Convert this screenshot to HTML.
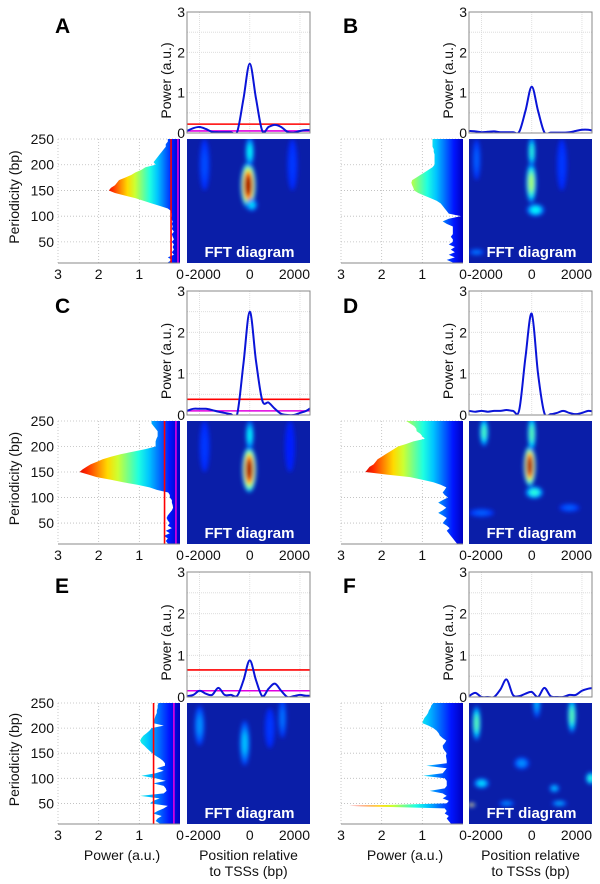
<!DOCTYPE html>
<html><head><meta charset="utf-8"><style>
html,body{margin:0;padding:0;background:#fff;}
svg{display:block;font-family:"Liberation Sans",Arial,sans-serif;}
</style></head><body>
<svg id="fig" width="600" height="884" viewBox="0 0 600 884" xmlns="http://www.w3.org/2000/svg">
<defs>
<filter id="blur" x="-50%" y="-50%" width="200%" height="200%"><feGaussianBlur stdDeviation="2.2"/></filter>
</defs>
</svg>
<script>
// ---- data ----
const positions=[-2500,-2250,-2000,-1750,-1500,-1250,-1000,-750,-500,-250,0,250,500,750,1000,1250,1500,1750,2000,2250,2500];
const periods=[250,245,240,235,230,225,220,215,210,205,200,195,190,185,180,175,170,165,160,155,150,145,140,135,130,125,120,115,110,105,100,95,90,85,80,75,70,65,60,55,50,45,40,35,30,25,20,15,10];
const panelLabels=["A","B","C","D","E","F"];
const topA=[0.05,0.12,0.15,0.1,0.03,0.02,0.02,0.02,0.03,0.85,1.72,0.85,0.05,0.15,0.2,0.15,0.03,0.01,0.05,0.07,0.07];
const topB=[0.05,0.04,0.02,0.03,0.04,0.02,0.02,0.02,0.03,0.55,1.15,0.55,0.02,0.01,0.01,0.01,0.02,0.05,0.08,0.08,0.05];
const topC=[0.1,0.15,0.15,0.15,0.12,0.08,0.05,0.02,0.02,1.25,2.5,1.3,0.35,0.3,0.15,0.03,0.0,0.0,0.05,0.1,0.2];
const topD=[0.1,0.08,0.1,0.08,0.1,0.1,0.12,0.1,0.12,1.4,2.45,1.0,0.05,0.02,0.05,0.1,0.05,0.02,0.05,0.1,0.08];
const topE=[0.02,0.05,0.15,0.08,0.05,0.22,0.05,0.05,0.03,0.4,0.88,0.4,0.02,0.2,0.32,0.15,0.0,0.02,0.05,0.03,0.03];
const topF=[0.02,0.1,0.0,0.0,0.0,0.18,0.42,0.05,0.02,0.08,0.12,0.0,0.22,0.02,0.0,0.0,0.05,0.05,0.15,0.2,0.22];
const specA=[0.3,0.3,0.35,0.35,0.4,0.45,0.5,0.55,0.6,0.65,0.6,0.85,0.95,1.1,1.2,1.35,1.5,1.55,1.6,1.7,1.75,1.6,1.35,1.1,0.9,0.7,0.5,0.3,0.22,0.2,0.2,0.22,0.18,0.2,0.18,0.2,0.15,0.2,0.18,0.15,0.2,0.15,0.18,0.15,0.2,0.15,0.3,0.2,0.3];
const specB=[0.75,0.75,0.75,0.75,0.72,0.72,0.7,0.7,0.7,0.7,0.7,0.75,0.85,0.95,1.05,1.15,1.25,1.27,1.25,1.22,1.2,1.1,0.95,0.8,0.65,0.55,0.5,0.45,0.4,0.35,0.05,0.35,0.5,0.4,0.25,0.25,0.25,0.25,0.3,0.25,0.25,0.35,0.2,0.3,0.2,0.35,0.2,0.4,0.25];
const specC=[0.7,0.7,0.65,0.6,0.55,0.55,0.55,0.58,0.6,0.6,0.6,0.85,1.15,1.45,1.7,1.9,2.05,2.2,2.3,2.4,2.47,2.25,2.05,1.7,1.4,1.05,0.75,0.57,0.29,0.25,0.25,0.2,0.2,0.18,0.17,0.2,0.25,0.3,0.33,0.3,0.25,0.3,0.2,0.35,0.25,0.4,0.3,0.35,0.3];
const specD=[1.4,1.3,1.2,1.15,1.14,1.05,1.0,0.94,1.22,1.4,1.6,1.7,1.8,1.9,2.0,2.1,2.15,2.2,2.3,2.35,2.4,1.87,1.3,1.0,0.73,0.55,0.41,0.45,0.5,0.45,0.37,0.5,0.61,0.5,0.41,0.5,0.61,0.5,0.4,0.45,0.5,0.4,0.33,0.4,0.35,0.3,0.25,0.2,0.15];
const specE=[0.53,0.55,0.55,0.57,0.57,0.6,0.62,0.64,0.66,0.4,0.7,0.75,0.82,0.9,0.95,0.98,0.95,0.88,0.82,0.75,0.68,0.6,0.5,0.42,0.37,0.37,0.57,0.4,0.6,0.95,0.6,0.35,0.66,0.4,0.35,0.33,0.4,0.98,0.5,0.66,0.74,0.3,0.4,0.55,0.66,0.45,0.55,0.6,0.5];
const specF=[0.73,0.78,0.8,0.84,0.86,0.9,0.95,0.98,1.0,0.85,0.73,0.65,0.6,0.57,0.5,0.41,0.45,0.5,0.49,0.45,0.4,0.42,0.41,0.4,0.4,0.9,0.4,0.45,0.5,0.98,0.45,0.4,0.4,0.4,0.45,0.82,0.5,0.4,0.5,0.35,0.4,2.8,0.45,0.4,0.45,0.35,0.4,0.35,0.3];
const thrRed=[0.22,null,0.38,null,0.65,null];
const thrMag=[0.05,null,0.1,null,0.15,null];
// colour scale maximum (power) per panel
const cmapMax=[1.85,2.2,2.55,2.45,2.6,2.9];
// heatmap blobs: [position bp, periodicity bp, intensity 0-1, half-width bp, half-height bp]
const heatA=[[-60,160,0.97,300,45],[0,225,0.38,170,30],[80,122,0.35,220,12],[-1800,200,0.2,200,50],[1700,200,0.18,200,50]];
const heatB=[[-20,165,0.55,200,40],[0,225,0.42,140,30],[150,112,0.38,350,12],[-2200,30,0.25,300,6],[-2200,210,0.22,160,40],[1200,200,0.18,200,50]];
const heatC=[[-20,155,0.97,280,45],[0,222,0.38,160,30],[-1800,200,0.18,200,50],[1600,200,0.15,200,50]];
const heatD=[[-80,162,0.97,240,40],[0,225,0.47,160,35],[-1900,228,0.45,170,28],[100,110,0.42,350,12],[1500,80,0.22,400,8],[-2000,70,0.22,500,8]];
const heatE=[[-2000,205,0.27,200,40],[-200,170,0.32,200,45],[1300,220,0.24,160,40],[800,200,0.18,200,40]];
const heatF=[[-2200,210,0.47,160,35],[1600,225,0.47,160,35],[-2000,90,0.35,300,10],[900,80,0.32,200,8],[2350,100,0.42,200,12],[-2400,47,0.85,150,4],[-400,130,0.27,300,12],[200,250,0.3,150,30],[1100,50,0.3,300,6],[-1000,50,0.27,300,6]];
const topTicks=[0,1,2,3];
const posTicks=[-2000,0,2000];
const perTicks=[250,200,150,100,50];
const powTicks=[3,2,1,0];

const tops=[topA,topB,topC,topD,topE,topF];
const specs=[specA,specB,specC,specD,specE,specF];
const heats=[heatA,heatB,heatC,heatD,heatE,heatF];

// ---- layout ----
const rowTop=[12,291,572], specTop=[139,421,703], specBot=[263,544,824];
const colSpec=[[58,180],[341,463]], colHeat=[[187,310],[469,592]];
const letterX=[55,343], letterY=[33,313,593];
const POS_MIN=-2500, POS_MAX=2400, PER_MIN=9, PER_MAX=250, SPEC_MAX=3, TOP_MAX=3;

const NS="http://www.w3.org/2000/svg";
const svg=document.getElementById('fig');
const defs=svg.querySelector('defs');
function mk(tag,attrs,parent){const e=document.createElementNS(NS,tag);for(const k in attrs)e.setAttribute(k,attrs[k]);(parent||svg).appendChild(e);return e;}
function jet(t){t=Math.max(0,Math.min(1,t));const c=v=>Math.round(255*Math.max(0,Math.min(1,v)));return `rgb(${c(1.5-Math.abs(4*t-3))},${c(1.5-Math.abs(4*t-2))},${c(1.5-Math.abs(4*t-1))})`;}
function smooth(pts){let d=`M${pts[0][0]},${pts[0][1]}`;for(let i=0;i<pts.length-1;i++){const p0=pts[Math.max(0,i-1)],p1=pts[i],p2=pts[i+1],p3=pts[Math.min(pts.length-1,i+2)];d+=` C${p1[0]+(p2[0]-p0[0])/6},${p1[1]+(p2[1]-p0[1])/6} ${p2[0]-(p3[0]-p1[0])/6},${p2[1]-(p3[1]-p1[1])/6} ${p2[0]},${p2[1]}`;}return d;}
function txt(s,x,y,attrs,parent){const e=mk('text',Object.assign({x:x,y:y,'font-size':14,fill:'#111'},attrs),parent);e.textContent=s;return e;}

for(let p=0;p<6;p++){
  const col=p%2,row=Math.floor(p/2);
  const L=panelLabels[p].toLowerCase();
  const g=mk('g',{});
  
  
  const [hx0,hx1]=colHeat[col],[sx0,sx1]=colSpec[col];
  const ty0=rowTop[row],ty1=specTop[row]-6,sy0=specTop[row],sy1=specBot[row];
  const xPos=v=>hx0+(v-POS_MIN)/(POS_MAX-POS_MIN)*(hx1-hx0);
  const yTop=v=>ty1-v/TOP_MAX*(ty1-ty0);
  const yPer=v=>sy1-(v-PER_MIN)/(PER_MAX-PER_MIN)*(sy1-sy0);
  const xSpec=v=>sx1-v/SPEC_MAX*(sx1-sx0);

  const letter=txt(panelLabels[p],letterX[col],letterY[row],{'font-size':21,'font-weight':'bold',fill:'#000'},g);
  
  

  // ---- top plot ----
  const tg=mk('g',{},g);
  
  
  for(let v=0.5;v<TOP_MAX;v+=0.5) mk('line',{x1:hx0,x2:hx1,y1:yTop(v),y2:yTop(v),stroke:'#d8d8d8','stroke-width':0.8,'stroke-dasharray':'1,1'},tg);
  posTicks.forEach(v=>mk('line',{x1:xPos(v),x2:xPos(v),y1:ty0,y2:ty1,stroke:'#d8d8d8','stroke-width':0.8,'stroke-dasharray':'1,1'},tg));
  const cid='clipTop'+p;
  const cp=mk('clipPath',{id:cid},defs);mk('rect',{x:hx0,y:ty0,width:hx1-hx0,height:ty1-ty0},cp);
  if(thrRed[p]!==null){
    const r=mk('line',{x1:hx0,x2:hx1,y1:yTop(thrRed[p]),y2:yTop(thrRed[p]),stroke:'#f00','stroke-width':1.6},tg);
    
    
    const m=mk('line',{x1:hx0,x2:hx1,y1:yTop(thrMag[p]),y2:yTop(thrMag[p]),stroke:'#e000e0','stroke-width':1.6},tg);
    
    
  }
  const pts=positions.map((x,i)=>[xPos(x),yTop(tops[p][i])]);
  const line=mk('path',{d:smooth(pts),fill:'none',stroke:'#0a14d8','stroke-width':2,'clip-path':`url(#${cid})`},tg);
  
  
  mk('rect',{x:hx0,y:ty0,width:hx1-hx0,height:ty1-ty0,fill:'none',stroke:'#888','stroke-width':1},tg);
  topTicks.forEach(v=>txt(String(v),hx0-2,yTop(v)+5,{'text-anchor':'end'},tg));
  const yl=txt('Power (a.u.)',0,0,{'text-anchor':'middle',transform:`translate(${hx0-16},${(ty0+ty1)/2+8}) rotate(-90)`},tg);
  
  

  // ---- spectrum plot ----
  const sg=mk('g',{},g);
  
  
  perTicks.forEach(v=>mk('line',{x1:sx0,x2:sx1,y1:yPer(v),y2:yPer(v),stroke:'#bbb','stroke-width':0.8,'stroke-dasharray':'1,2'},sg));
  [1,2,3].forEach(v=>mk('line',{x1:xSpec(v),x2:xSpec(v),y1:sy0,y2:sy1,stroke:'#bbb','stroke-width':0.8,'stroke-dasharray':'1,2'},sg));
  const gid='jetGrad'+p;
  const lg=mk('linearGradient',{id:gid,gradientUnits:'userSpaceOnUse',x1:xSpec(0),y1:0,x2:xSpec(cmapMax[p]),y2:0},defs);
  for(let k=0;k<=10;k++){const t=k/10;mk('stop',{offset:t,'stop-color':jet(0.06+0.86*t)},lg);}
  const scid='clipSpec'+p;
  const scp=mk('clipPath',{id:scid},defs);mk('rect',{x:sx0,y:sy0,width:sx1-sx0,height:sy1-sy0},scp);
  let poly=`${xSpec(0)},${yPer(periods[0])} `+periods.map((pr,i)=>`${xSpec(specs[p][i])},${yPer(pr)}`).join(' ')+` ${xSpec(0)},${yPer(periods[periods.length-1])}`;
  const area=mk('polygon',{points:poly,fill:`url(#${gid})`,'clip-path':`url(#${scid})`},sg);
  
  
  if(thrRed[p]!==null){
    const r=mk('line',{x1:xSpec(thrRed[p]),x2:xSpec(thrRed[p]),y1:sy0,y2:sy1,stroke:'#f00','stroke-width':1.6},sg);
    
    
    const m=mk('line',{x1:xSpec(thrMag[p]),x2:xSpec(thrMag[p]),y1:sy0,y2:sy1,stroke:'#e000e0','stroke-width':1.6},sg);
    
    
  }
  mk('line',{x1:sx0,x2:sx1,y1:sy1,y2:sy1,stroke:'#888','stroke-width':1},sg);
  powTicks.forEach(v=>txt(String(v),xSpec(v),sy1+16,{'text-anchor':'middle'},sg));
  if(col===0){
    perTicks.forEach(v=>txt(String(v),sx0-4,yPer(v)+5,{'text-anchor':'end'},sg));
    const pl=txt('Periodicity (bp)',0,0,{'text-anchor':'middle',transform:`translate(19,${(sy0+sy1)/2-4}) rotate(-90)`},sg);
    
    
  }
  if(row===2){
    const px=txt('Power (a.u.)',(sx0+sx1)/2+3,sy1+36,{'text-anchor':'middle'},sg);
    
    
  }

  // ---- heatmap ----
  const hg=mk('g',{},g);
  
  
  const hcid='clipHeat'+p;
  const hcp=mk('clipPath',{id:hcid},defs);mk('rect',{x:hx0,y:sy0,width:hx1-hx0,height:sy1-sy0},hcp);
  const inner=mk('g',{'clip-path':`url(#${hcid})`},hg);
  mk('rect',{x:hx0,y:sy0,width:hx1-hx0,height:sy1-sy0,fill:'#0a1ea8'},inner);
  const bl=mk('g',{filter:'url(#blur)'},inner);
  heats[p].forEach(b=>{
    const [bx,by,bi,bw,bh]=b;
    const cx=xPos(bx),cy=yPer(by);
    const rx=Math.abs(xPos(bx+bw)-cx),ry=Math.abs(yPer(by+bh)-cy);
    const n=6;
    for(let k=0;k<n;k++){
      const f=1-k/n*0.7;
      const e=mk('ellipse',{cx:cx,cy:cy,rx:rx*f,ry:ry*f,fill:jet(0.16+(bi-0.16)*(k+1)/n)},bl);
      if(k===0){}
    }
  });
  const ft=txt('FFT diagram',(hx0+hx1)/2+1,sy1-6,{'text-anchor':'middle','font-size':15,'font-weight':'bold',fill:'#fff'},hg);
  
  
  posTicks.forEach((v,i)=>{
    const anchor=i===0?'start':(i===posTicks.length-1?'end':'middle');
    const x=i===0?hx0-2:(i===posTicks.length-1?hx1:xPos(v));
    txt(String(v),x,sy1+16,{'text-anchor':anchor},hg);
  });
  if(row===2){
    const a=txt('Position relative',(hx0+hx1)/2,sy1+36,{'text-anchor':'middle'},hg);
    
    
    txt('to TSSs (bp)',(hx0+hx1)/2,sy1+52,{'text-anchor':'middle'},hg);
  }
}
</script>
</body></html>
